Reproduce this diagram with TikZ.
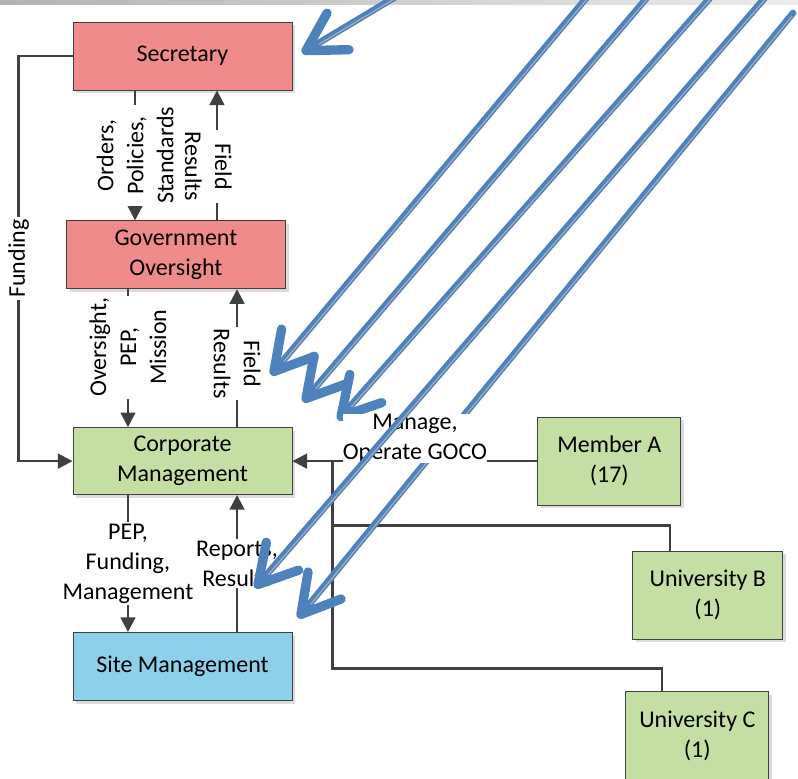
\documentclass[tikz,border=0pt]{standalone}
\usepackage{fontspec}
\setmainfont{Carlito}
\usepackage{xcolor}
\usepackage{tikz}
\usetikzlibrary{positioning, arrows.meta, shadows, calc}

\definecolor{secred}{RGB}{240,139,139}
\definecolor{mgreen}{RGB}{196,222,164}
\definecolor{siteblue}{RGB}{140,208,234}
\definecolor{lineg}{RGB}{64,64,64}
\definecolor{bluel}{RGB}{79,129,189}
\definecolor{stripeg}{RGB}{168,174,184}

\begin{document}
\begin{tikzpicture}[
    x=0.75pt, y=-0.75pt,
    box/.style={rectangle, draw=lineg, line width=0.6pt, align=center, inner sep=2pt, font=\fontsize{18pt}{22.5pt}\selectfont, drop shadow={shadow xshift=2.5pt, shadow yshift=-2.5pt, fill=black!14, opacity=1}},
    govbox/.style={box, fill=secred, minimum width=164.25pt, minimum height=51pt},
    mgmtbox/.style={box, fill=mgreen, minimum width=164.25pt, minimum height=50.25pt},
    sitebox/.style={box, fill=siteblue, minimum width=164.25pt, minimum height=51pt},
    partner/.style={box, fill=mgreen, minimum width=107.25pt, minimum height=66pt},
    arr/.style={-{Triangle[length=11pt, width=11pt]}, line width=1.9pt, lineg},
    link/.style={line width=1.9pt, lineg},
    lbl/.style={fill=white, text=black, align=center, inner sep=1.5pt, font=\fontsize{18pt}{22.5pt}\selectfont},
    blu/.style={line width=5pt, bluel, line cap=round, -{Straight Barb[length=28pt, width=32pt, line width=7pt, round]}},
    stripe/.style={line width=0.9pt, stripeg, shorten >=14pt, shorten <=2pt, transform canvas={shift={(0.7pt,-0.6pt)}}},
]
\useasboundingbox (0,0) rectangle (798,778);

% window bar along the top
\shade[left color=gray!60, right color=gray!15] (0,0) rectangle (798,4.5);

% Government side
\node[govbox] (sec) at (182.5,56) {Secretary};
\node[govbox, below=97.5pt of sec, xshift=-4.9pt] (gov) {Government\\Oversight};

% Contractor side
\node[mgmtbox, below=103.5pt of gov, xshift=4.9pt] (corp) {Corporate\\Management};
\node[sitebox, below=102.75pt of corp] (site) {Site Management};

% Members
\node[partner, right=183.75pt of corp] (memA) {Member A\\(17)};
\node[partner, below=33.75pt of memA, xshift=73.9pt, minimum width=112.5pt] (uniB) {University B\\(1)};
\node[partner, below=39pt of uniB, xshift=-7.9pt] (uniC) {University C\\(1)};

% Funding loop
\draw[arr] (sec.west) -- ++(-40.5pt,0) coordinate (fl) -- (fl |- corp.west) node[lbl, rotate=90, midway] {Funding} -- (corp.west);

% Secretary <-> Government
\draw[arr] ([xshift=-35.6pt]sec.south) -- ([xshift=-35.6pt]sec.south |- gov.north)
    node[lbl, rotate=90, midway] {Orders,\\Policies,\\Standards};
\draw[arr] ([xshift=30.75pt]gov.north) -- ([xshift=30.75pt]gov.north |- sec.south)
    node[lbl, xshift=-6.4pt, rotate=-90, pos=0.415] {Field\\Results};

% Government <-> Corporate
\draw[arr] ([xshift=-36pt]gov.south) -- ([xshift=-36pt]gov.south |- corp.north)
    node[lbl, rotate=90, pos=0.42] {Oversight,\\PEP,\\Mission};
\draw[arr] ([xshift=40.9pt]corp.north) -- ([xshift=40.9pt]corp.north |- gov.south)
    node[lbl, rotate=-90, pos=0.46] {Field\\Results};

% Corporate <-> Site
\draw[arr] ([xshift=-40.9pt]corp.south) -- ([xshift=-40.9pt]corp.south |- site.north)
    node[lbl, midway] {PEP,\\Funding,\\Management};
\draw[arr] ([xshift=40.9pt]site.north) -- ([xshift=40.9pt]site.north |- corp.south)
    node[lbl, midway] {Reports,\\Results};

% Members -> Corporate
\coordinate (tr) at ([xshift=30pt]corp.east);
\draw[arr] (memA.west) -- (corp.east);
\draw[link] (tr) |- ([xshift=-28.5pt, yshift=18.75pt]uniB.north) -- ([xshift=-28.5pt]uniB.north);
\draw[link] (tr) |- ([xshift=-26.6pt, yshift=17.25pt]uniC.north) -- ([xshift=-26.6pt]uniC.north);

% blue call-out arrows
\coordinate (t0) at (407,-10);   \coordinate (h0) at (302,53);
\coordinate (ta) at (593,-10);   \coordinate (ha) at (271,375);
\coordinate (tb) at (653.5,-10); \coordinate (hb) at (303,402);
\coordinate (tc) at (717,-10);   \coordinate (hc) at (338,420);
\coordinate (td) at (771.6,-10); \coordinate (hd) at (255,588);
\coordinate (te) at (793,13);    \coordinate (he) at (298,618);

\draw[blu] (t0) -- (h0); \draw[stripe] (t0) -- (h0);
\draw[blu] (ta) -- (ha); \draw[stripe] (ta) -- (ha);
\draw[blu] (tb) -- (hb); \draw[stripe] (tb) -- (hb);
\draw[blu] (tc) -- (hc); \draw[stripe] (tc) -- (hc);
\draw[blu] (te) -- (he); \draw[stripe] (te) -- (he);

\node[lbl, inner sep=0pt, anchor=south, yshift=-1.8pt] (goco) at ($(memA.west)!0.5!(corp.east)$) {Manage,\\Operate GOCO};

\draw[blu] (td) -- (hd); \draw[stripe] (td) -- (hd);

\end{tikzpicture}
\end{document}
